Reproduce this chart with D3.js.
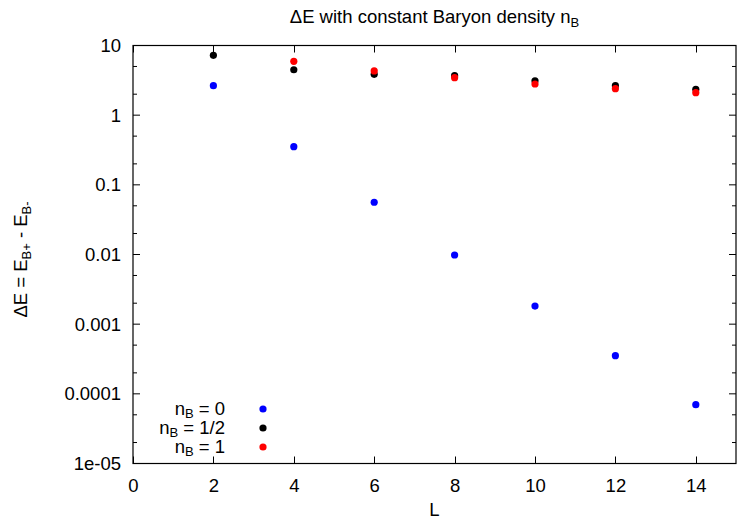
<!DOCTYPE html>
<html>
<head>
<meta charset="utf-8">
<script src="https://cdn.jsdelivr.net/npm/d3@7"></script>
<style>
  body { margin: 0; background: #fff; }
  svg text { font-family: "Liberation Sans", Arial, sans-serif; fill: #000; }
</style>
</head>
<body>
<div id="chart"></div>
<script>
// chart data
const L = [2, 4, 6, 8, 10, 12, 14];
const nB0 = [2.65, 0.353, 0.0562, 0.00984, 0.00182, 0.000353, 0.0000698];
const nBHalf = [7.23, 4.49, 3.86, 3.69, 3.12, 2.65, 2.35];
const nB1 = [null, 5.93, 4.31, 3.45, 2.80, 2.40, 2.10];
const xTicks = [0, 2, 4, 6, 8, 10, 12, 14];
const yTicks = [10, 1, 0.1, 0.01, 0.001, 0.0001, 0.00001];
const yTickLabels = ["10", "1", "0.1", "0.01", "0.001", "0.0001", "1e-05"];

const series = [
    { label: "0", values: nB0, color: "#0000ff" },
    { label: "1/2", values: nBHalf, color: "#000000" },
    { label: "1", values: nB1, color: "#ff0000" }
];

const width = 737, height = 520;
const margin = { top: 45.5, right: 1, bottom: 56.5, left: 133 };
const innerW = width - margin.left - margin.right;
const innerH = height - margin.top - margin.bottom;
const fs = "18.5px", subFs = "13px";

const svg = d3.select("#chart").append("svg")
    .attr("width", width)
    .attr("height", height);

const chart = svg.append("g")
    .attr("transform", `translate(${margin.left},${margin.top})`);

const xScale = d3.scaleLinear().domain([0, 15]).range([0, innerW]);
const yScale = d3.scaleLog().domain([1e-5, 10]).range([innerH, 0]);

// minor ticks at 2 and 5 in each decade
const yMinor = [];
for (let e = -5; e < 1; e++) {
    yMinor.push(2 * Math.pow(10, e), 5 * Math.pow(10, e));
}

// left axis labels
chart.append("g")
    .attr("class", "axis y-axis")
    .call(d3.axisLeft(yScale).tickValues(yTicks).tickSize(0).tickPadding(12)
        .tickFormat((d, i) => yTickLabels[i]))
    .call(g => g.select(".domain").remove())
    .selectAll("text").style("font-size", fs);

// x axis labels
chart.append("g")
    .attr("class", "axis x-axis")
    .attr("transform", `translate(0,${innerH})`)
    .call(d3.axisBottom(xScale).tickValues(xTicks).tickSize(0).tickPadding(15))
    .call(g => g.select(".domain").remove())
    .selectAll("text").style("font-size", fs);

// tick marks (mirrored on all sides, gnuplot style)
const tickG = chart.append("g").attr("stroke", "#000").attr("stroke-width", 1);
xTicks.forEach(t => {
    const x = Math.round(xScale(t)) + 0.5;
    tickG.append("line").attr("x1", x).attr("x2", x).attr("y1", innerH).attr("y2", innerH - 7);
    tickG.append("line").attr("x1", x).attr("x2", x).attr("y1", 0).attr("y2", 7);
});
yTicks.forEach(t => {
    const y = yScale(t);
    tickG.append("line").attr("x1", 0).attr("x2", 7).attr("y1", y).attr("y2", y);
    tickG.append("line").attr("x1", innerW).attr("x2", innerW - 7).attr("y1", y).attr("y2", y);
});
yMinor.forEach(t => {
    const y = yScale(t);
    tickG.append("line").attr("x1", 0).attr("x2", 4).attr("y1", y).attr("y2", y);
    tickG.append("line").attr("x1", innerW).attr("x2", innerW - 4).attr("y1", y).attr("y2", y);
});

// border
chart.append("rect")
    .attr("x", 0).attr("y", 0)
    .attr("width", innerW).attr("height", innerH)
    .attr("fill", "none")
    .attr("stroke", "#000")
    .attr("stroke-width", 1.2);

// points
series.forEach(s => {
    chart.append("g").selectAll("circle")
        .data(L.map((l, i) => ({ l: l, v: s.values[i] })).filter(d => d.v != null))
        .enter().append("circle")
        .attr("cx", d => xScale(d.l))
        .attr("cy", d => yScale(d.v))
        .attr("r", 3.6)
        .attr("fill", s.color);
});

// legend
const legend = chart.append("g").attr("class", "legend");
series.forEach((s, i) => {
    const y = 363.5 + i * 19;
    const t = legend.append("text")
        .attr("x", 92)
        .attr("y", y)
        .attr("dy", "0.3em")
        .attr("text-anchor", "end")
        .style("font-size", fs);
    t.append("tspan").text("n");
    t.append("tspan").attr("dy", "3").style("font-size", subFs).text("B");
    t.append("tspan").attr("dy", "-3").text(" = " + s.label);
    legend.append("circle")
        .attr("cx", 130)
        .attr("cy", y)
        .attr("r", 3.6)
        .attr("fill", s.color);
});

// title
const title = svg.append("text")
    .attr("x", margin.left + innerW / 2)
    .attr("y", 23)
    .attr("text-anchor", "middle")
    .style("font-size", fs);
title.append("tspan").text("\u0394E with constant Baryon density n");
title.append("tspan").attr("dy", "4").style("font-size", subFs).text("B");

// x label
svg.append("text")
    .attr("x", margin.left + innerW / 2)
    .attr("y", 516)
    .attr("text-anchor", "middle")
    .style("font-size", fs)
    .text("L");

// y label
const ylab = svg.append("text")
    .attr("transform", `translate(27,${margin.top + innerH / 2 + 5}) rotate(-90)`)
    .attr("text-anchor", "middle")
    .style("font-size", fs);
ylab.append("tspan").text("\u0394E = E");
ylab.append("tspan").attr("dy", "4").style("font-size", subFs).text("B+");
ylab.append("tspan").attr("dy", "-4").text(" - E");
ylab.append("tspan").attr("dy", "4").style("font-size", subFs).text("B-");
</script>
</body>
</html>
